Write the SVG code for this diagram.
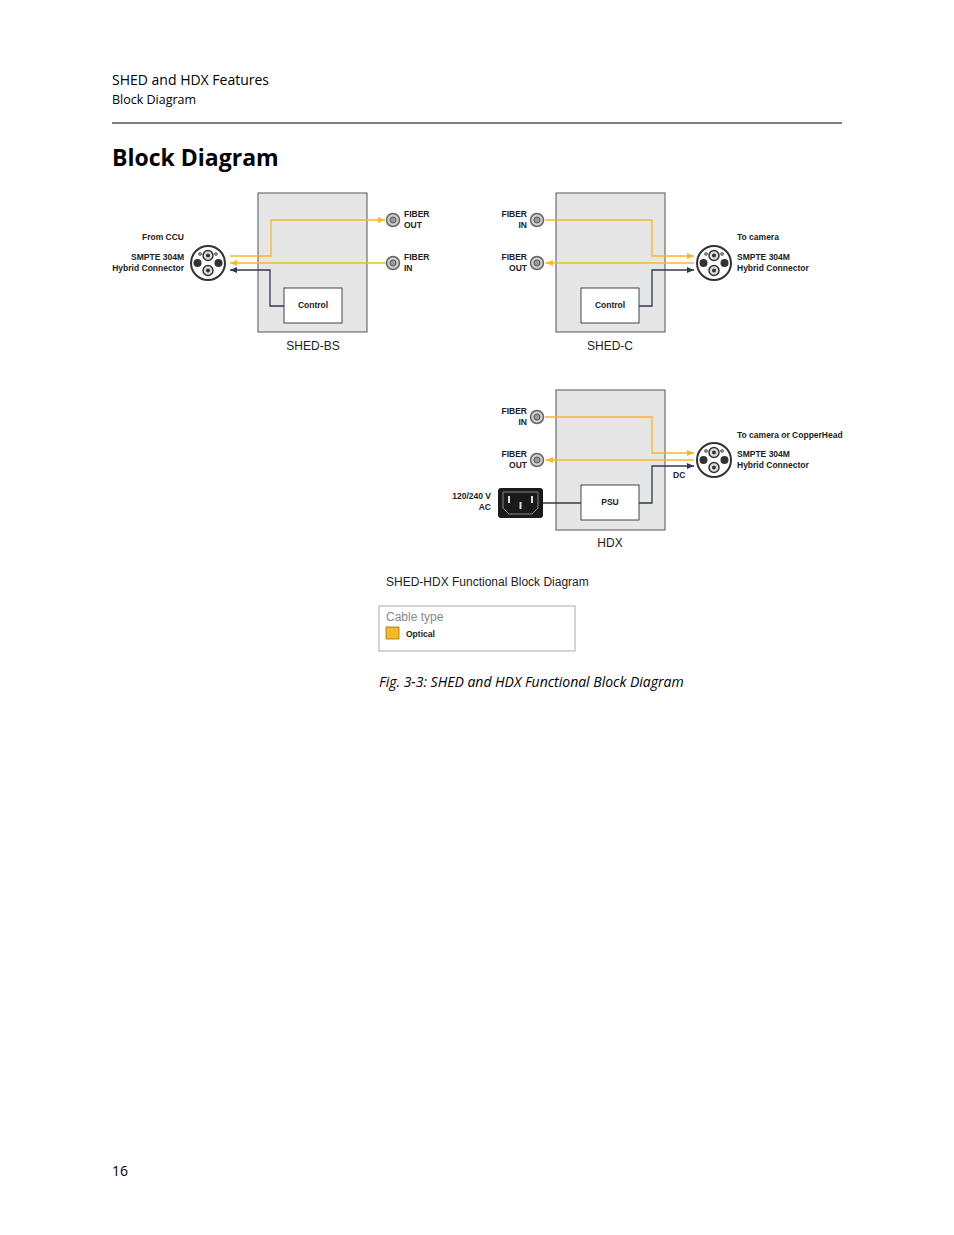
<svg xmlns="http://www.w3.org/2000/svg" width="954" height="1235" viewBox="0 0 954 1235">
<style>
.hd{font-family:"Open Sans","Noto Sans",sans-serif;fill:#000}
.lb{font-family:"Liberation Sans",Arial,sans-serif;font-weight:bold;font-size:8.5px;fill:#222}
.nm{font-family:"Liberation Sans",Arial,sans-serif;font-size:12px;fill:#222}
.box{fill:#e6e6e6;stroke:#555;stroke-width:1}
.inner{fill:#fff;stroke:#444;stroke-width:1}
.opt{fill:none;stroke:#f6b72a;stroke-width:1.3}
.dk{fill:none;stroke:#2e3a4e;stroke-width:1.3}
</style>
<defs>
<marker id="ao" markerWidth="8" markerHeight="8" refX="7" refY="4" orient="auto" markerUnits="userSpaceOnUse"><path d="M0,1 L7,4 L0,7 Z" fill="#f6b72a"/></marker>
<marker id="ad" markerWidth="8" markerHeight="8" refX="7" refY="4" orient="auto" markerUnits="userSpaceOnUse"><path d="M0,1 L7,4 L0,7 Z" fill="#2e3a4e"/></marker>
<g id="hyb">
<circle r="17" fill="#fff" stroke="#333" stroke-width="2"/>
<circle cx="0" cy="-7.5" r="5" fill="#ddd" stroke="#333" stroke-width="1.5"/><circle cx="0" cy="-7.5" r="2" fill="#333"/>
<circle cx="0" cy="7.5" r="5" fill="#ddd" stroke="#333" stroke-width="1.5"/><circle cx="0" cy="7.5" r="2" fill="#333"/>
<circle cx="-10.5" cy="0" r="4" fill="#333"/><circle cx="10.5" cy="0" r="4" fill="#333"/>
<circle cx="-8" cy="-9" r="1.3" fill="none" stroke="#333"/><circle cx="8" cy="-9" r="1.3" fill="none" stroke="#333"/>
</g>
<g id="fib">
<circle r="6.5" fill="#ccc" stroke="#666" stroke-width="1.5"/><circle r="3" fill="#999" stroke="#555"/>
</g>
</defs>
<rect width="954" height="1235" fill="#fff"/>
<text class="hd" x="112" y="85" font-size="14">SHED and HDX Features</text>
<text class="hd" x="112" y="104" font-size="12.5">Block Diagram</text>
<line x1="112" y1="123" x2="842" y2="123" stroke="#000" stroke-width="1"/>
<text class="hd" x="112" y="166" font-size="23" font-weight="bold">Block Diagram</text>

<g id="shed-bs">
<rect class="box" x="258" y="193" width="109" height="139"/>
<rect class="inner" x="284" y="288" width="58" height="35"/>
<text class="lb" x="313" y="308" text-anchor="middle">Control</text>
<text class="nm" x="313" y="350" text-anchor="middle">SHED-BS</text>
</g>
<g id="bs-hybrid"><use href="#hyb" x="208" y="263"/>
<text class="lb" x="184" y="240" text-anchor="end">From CCU</text>
<text class="lb" x="184" y="260" text-anchor="end">SMPTE 304M</text>
<text class="lb" x="184" y="271" text-anchor="end">Hybrid Connector</text></g>
<g id="bs-fout"><use href="#fib" x="393" y="220"/><text class="lb" x="404" y="217">FIBER</text><text class="lb" x="404" y="228">OUT</text></g>
<g id="bs-fin"><use href="#fib" x="393" y="263"/><text class="lb" x="404" y="260">FIBER</text><text class="lb" x="404" y="271">IN</text></g>

<g id="shed-c">
<rect class="box" x="556" y="193" width="109" height="139"/>
<rect class="inner" x="581" y="288" width="58" height="35"/>
<text class="lb" x="610" y="308" text-anchor="middle">Control</text>
<text class="nm" x="610" y="350" text-anchor="middle">SHED-C</text>
</g>
<g id="c-fin"><use href="#fib" x="537" y="220"/><text class="lb" x="527" y="217" text-anchor="end">FIBER</text><text class="lb" x="527" y="228" text-anchor="end">IN</text></g>
<g id="c-fout"><use href="#fib" x="537" y="263"/><text class="lb" x="527" y="260" text-anchor="end">FIBER</text><text class="lb" x="527" y="271" text-anchor="end">OUT</text></g>
<g id="c-hybrid"><use href="#hyb" x="714" y="263"/>
<text class="lb" x="737" y="240">To camera</text>
<text class="lb" x="737" y="260">SMPTE 304M</text>
<text class="lb" x="737" y="271">Hybrid Connector</text></g>

<g id="hdx">
<rect class="box" x="556" y="390" width="109" height="140"/>
<rect class="inner" x="581" y="485" width="58" height="35"/>
<text class="lb" x="610" y="505" text-anchor="middle">PSU</text>
<text class="nm" x="610" y="547" text-anchor="middle">HDX</text>
</g>
<g id="h-fin"><use href="#fib" x="537" y="417"/><text class="lb" x="527" y="414" text-anchor="end">FIBER</text><text class="lb" x="527" y="425" text-anchor="end">IN</text></g>
<g id="h-fout"><use href="#fib" x="537" y="460"/><text class="lb" x="527" y="457" text-anchor="end">FIBER</text><text class="lb" x="527" y="468" text-anchor="end">OUT</text></g>
<g id="h-hybrid"><use href="#hyb" x="714" y="460"/>
<text class="lb" x="737" y="438">To camera or CopperHead</text>
<text class="lb" x="737" y="457">SMPTE 304M</text>
<text class="lb" x="737" y="468">Hybrid Connector</text></g>
<g id="h-power">
<rect x="498" y="488" width="45" height="30" rx="3" fill="#1a1a1a"/>
<path d="M503,492 H538 V508 L532,514 H509 L503,508 Z" fill="#1a1a1a" stroke="#888" stroke-width="1"/>
<rect x="508" y="496" width="2" height="7" fill="#ddd"/><rect x="531" y="496" width="2" height="7" fill="#ddd"/><rect x="519.5" y="502" width="2" height="7" fill="#ddd"/>
<text class="lb" x="491" y="499" text-anchor="end">120/240 V</text>
<text class="lb" x="491" y="510" text-anchor="end">AC</text>
</g>

<g id="connectors">
<polyline class="opt" points="230,256 271,256 271,220 385,220" marker-end="url(#ao)"/>
<line class="opt" x1="386" y1="263" x2="230" y2="263" marker-end="url(#ao)"/>
<polyline class="dk" points="284,306 270,306 270,270 230,270" marker-end="url(#ad)"/>
<polyline class="opt" points="545,220 652,220 652,256 694,256" marker-end="url(#ao)"/>
<line class="opt" x1="694" y1="263" x2="546" y2="263" marker-end="url(#ao)"/>
<polyline class="dk" points="639,306 652,306 652,270 694,270" marker-end="url(#ad)"/>
<polyline class="opt" points="545,417 652,417 652,453 694,453" marker-end="url(#ao)"/>
<line class="opt" x1="694" y1="460" x2="546" y2="460" marker-end="url(#ao)"/>
<line class="dk" x1="543" y1="503" x2="581" y2="503"/>
<polyline class="dk" points="639,503 652,503 652,466 694,466" marker-end="url(#ad)"/>
<text class="lb" x="673" y="478">DC</text>
</g>

<text class="nm" x="386" y="586">SHED-HDX Functional Block Diagram</text>
<g id="legend">
<rect x="379" y="606" width="196" height="45" fill="#fff" stroke="#aaa"/>
<text x="386" y="621" font-family="Liberation Sans,Arial,sans-serif" font-size="12" fill="#888">Cable type</text>
<rect x="386" y="627" width="13" height="12" fill="#f6b72a" stroke="#a07010" stroke-width="0.8"/>
<text class="lb" x="406" y="637">Optical</text>
</g>
<text class="hd" x="379" y="687" font-size="14" font-style="italic">Fig. 3-3: SHED and HDX Functional Block Diagram</text>
<text class="hd" x="112" y="1176" font-size="14">16</text>
</svg>
